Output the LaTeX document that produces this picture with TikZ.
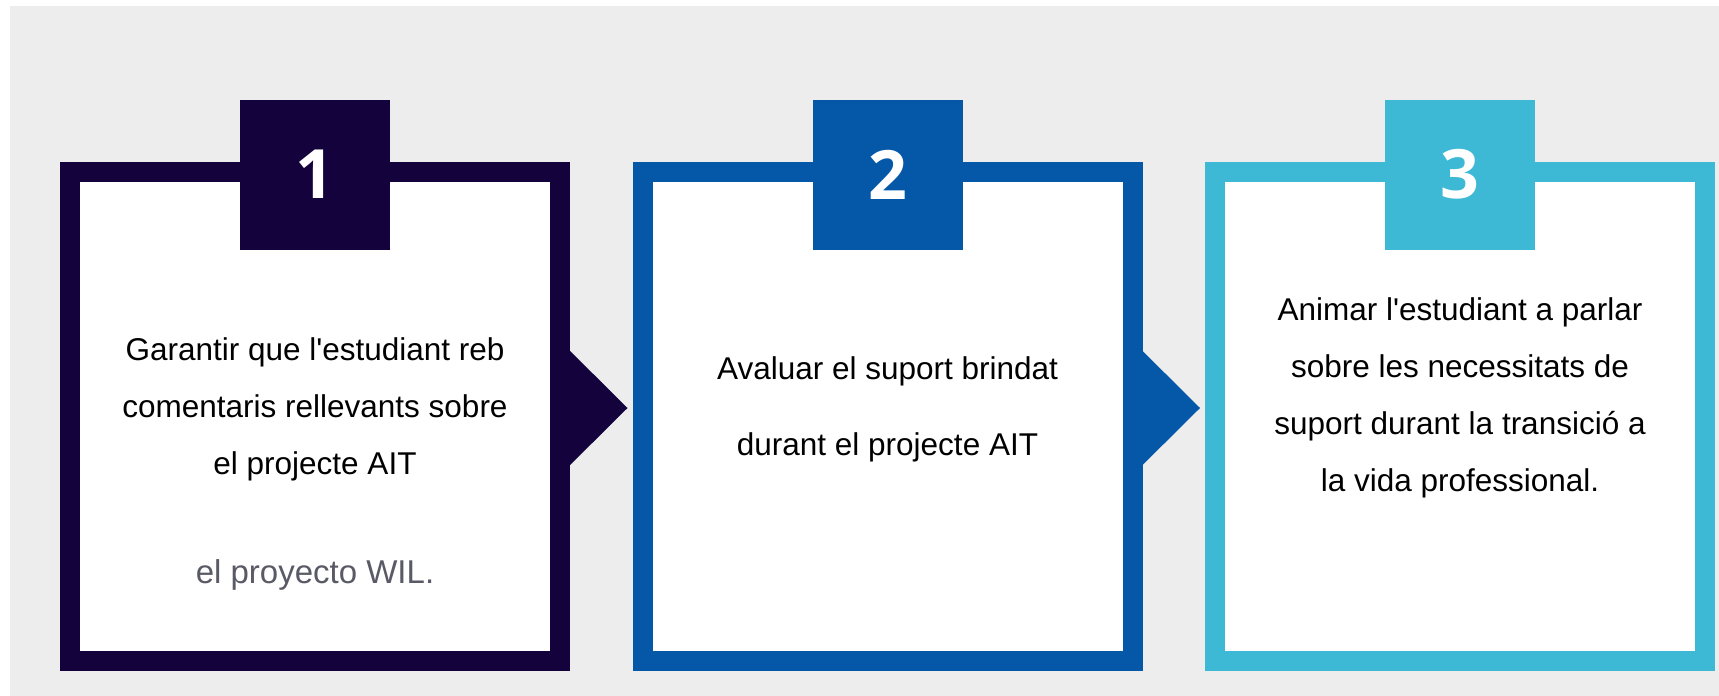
\documentclass[tikz,border=0pt]{standalone}
\usepackage{fontspec}
\setmainfont{Liberation Sans}
\newfontfamily\numfont{Open Sans}
\usetikzlibrary{positioning}
\definecolor{navy}{HTML}{14023D}
\definecolor{midblue}{HTML}{0558A8}
\definecolor{skyblue}{HTML}{3DB9D5}
\definecolor{paper}{HTML}{EDEDED}
\definecolor{note}{HTML}{5A5A66}

\begin{document}
\begin{tikzpicture}[x=0.5pt,y=-0.5pt,node distance=41.25pt,
      frame/.style={draw=#1,fill=white,line width=10pt,outer sep=0pt,
        minimum width=245pt,minimum height=244.5pt},
      num/.style={fill=#1,text=white,minimum size=75pt,inner sep=0pt,
        font=\numfont\bfseries\fontsize{34}{34}\selectfont},
      txt/.style={anchor=north,align=center,inner sep=0pt,
        font=\fontsize{15.75}{28.5}\selectfont}]
  \fill[white] (0,0) rectangle (1719,696);
  \fill[paper] (10,6) rectangle (1719,696);
  \node[frame=navy] (box1) at (315,416.5) {};
  \node[frame=midblue, right=of box1] (box2) {};
  \node[frame=skyblue, right=of box2] (box3) {};
  % arrows between the boxes
  \fill[navy] ([yshift=37.75pt]box1.east) -- ([xshift=-7.5pt,yshift=4.25pt]box2.west)
    -- ([yshift=-29.25pt]box1.east) -- cycle;
  \fill[midblue] ([yshift=37.75pt]box2.east) -- ([xshift=-7.5pt,yshift=4.25pt]box3.west)
    -- ([yshift=-29.25pt]box2.east) -- cycle;
  % number tabs
  \node[num=navy] (num1) at ([yshift=-1.25pt]box1.north) {1};
  \node[num=midblue] (num2) at ([yshift=-1.25pt]box2.north) {2};
  \node[num=skyblue] (num3) at ([yshift=-1.25pt]box3.north) {3};
  % texts
  \node[txt] (txt1) at ([yshift=39.5pt]box1.center)
    {Garantir que l\textquotesingle estudiant reb\\comentaris rellevants sobre\\el projecte AIT\\[26pt]
     {\color{note}\fontsize{16.5}{28.5}\selectfont el proyecto WIL.}};
  \node[txt] (txt2) at ([yshift=30pt]box2.center)
    {Avaluar el suport brindat\\[9.5pt]durant el projecte AIT};
  \node[txt] (txt3) at ([yshift=59.5pt]box3.center)
    {Animar l\textquotesingle estudiant a parlar\\sobre les necessitats de\\suport durant la transició a\\la vida professional.};
\end{tikzpicture}
\end{document}
